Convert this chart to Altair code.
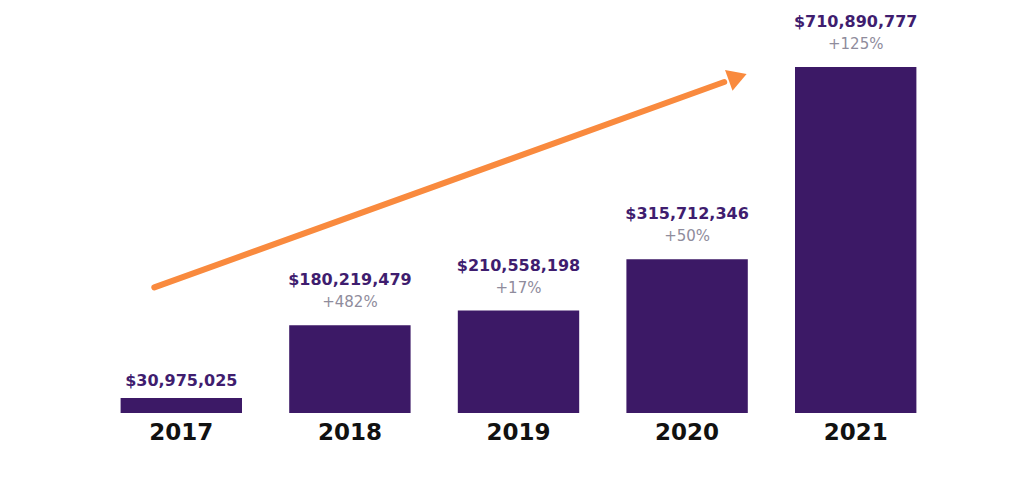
import altair as alt
import pandas as pd

years = ["2017", "2018", "2019", "2020", "2021"]
revenue = [30975025, 180219479, 210558198, 315712346, 710890777]
value_labels = ["$30,975,025", "$180,219,479", "$210,558,198", "$315,712,346", "$710,890,777"]
growth_labels = ["", "+482%", "+17%", "+50%", "+125%"]

# arrow path, x in category-index units, y in revenue units
arrow_x = [0.34, 3.72]
arrow_y = [258e6, 680e6]
arrow_head_x = [3.80]
arrow_head_y = [690e6]

df = pd.DataFrame({"year": years, "revenue": revenue,
                   "vlabel": value_labels, "glabel": growth_labels})
arrow_df = pd.DataFrame({"ax": arrow_x, "ay": arrow_y})
head_df = pd.DataFrame({"ax": arrow_head_x, "ay": arrow_head_y})

BAR = "#3c1966"
YMAX = 710890777

band_scale = alt.Scale(domain=years, paddingInner=0.28, paddingOuter=0.14)
x_band = alt.X("year:N", sort=years, scale=band_scale,
               axis=alt.Axis(title=None, domain=False, ticks=False, labelAngle=0,
                             labelFont="DejaVu Sans", labelFontWeight="bold",
                             labelFontSize=23, labelColor="#111111",
                             labelPadding=8))
x_band_noaxis = alt.X("year:N", sort=years, scale=band_scale, axis=None)
y_lin = alt.Y("revenue:Q", scale=alt.Scale(domain=[0, YMAX], nice=False, zero=True),
              axis=None)

base = alt.Chart(df)
bars = base.mark_bar(color=BAR).encode(x=x_band, y=y_lin)

vals_hi = base.transform_filter("datum.glabel != ''").mark_text(
    font="DejaVu Sans", fontWeight="bold", fontSize=16, color="#3f1d6f",
    baseline="middle", dy=-45).encode(
    x=x_band_noaxis, y=y_lin, text="vlabel:N")
vals_lo = base.transform_filter("datum.glabel == ''").mark_text(
    font="DejaVu Sans", fontWeight="bold", fontSize=16, color="#3f1d6f",
    baseline="middle", dy=-17).encode(
    x=x_band_noaxis, y=y_lin, text="vlabel:N")
growth = base.transform_filter("datum.glabel != ''").mark_text(
    font="DejaVu Sans", fontSize=15, color="#8f8c9c",
    baseline="middle", dy=-23).encode(
    x=x_band_noaxis, y=y_lin, text="glabel:N")

xq = alt.X("ax:Q", scale=alt.Scale(domain=[0, 5], nice=False, zero=False), axis=None)
yq = alt.Y("ay:Q", scale=alt.Scale(domain=[0, YMAX], nice=False, zero=True), axis=None)
arrow_line = alt.Chart(arrow_df).mark_line(color="#f98a3e", strokeWidth=6,
                                           strokeCap="round").encode(x=xq, y=yq)
arrow_head = alt.Chart(head_df).mark_point(shape="triangle-right", filled=True,
                                           color="#f98a3e", opacity=1, size=480,
                                           angle=340).encode(x=xq, y=yq)

chart = alt.layer(bars, vals_hi, vals_lo, growth, arrow_line, arrow_head).resolve_scale(
    x="independent", y="independent"
).properties(
    width=843, height=346,
    padding={"left": 89, "top": 59, "right": 10, "bottom": 60},
    autosize=alt.AutoSizeParams(type="none"),
    background="white",
).configure_view(stroke=None)

chart.save("out.html", embed_options={"renderer": "svg", "actions": False})
